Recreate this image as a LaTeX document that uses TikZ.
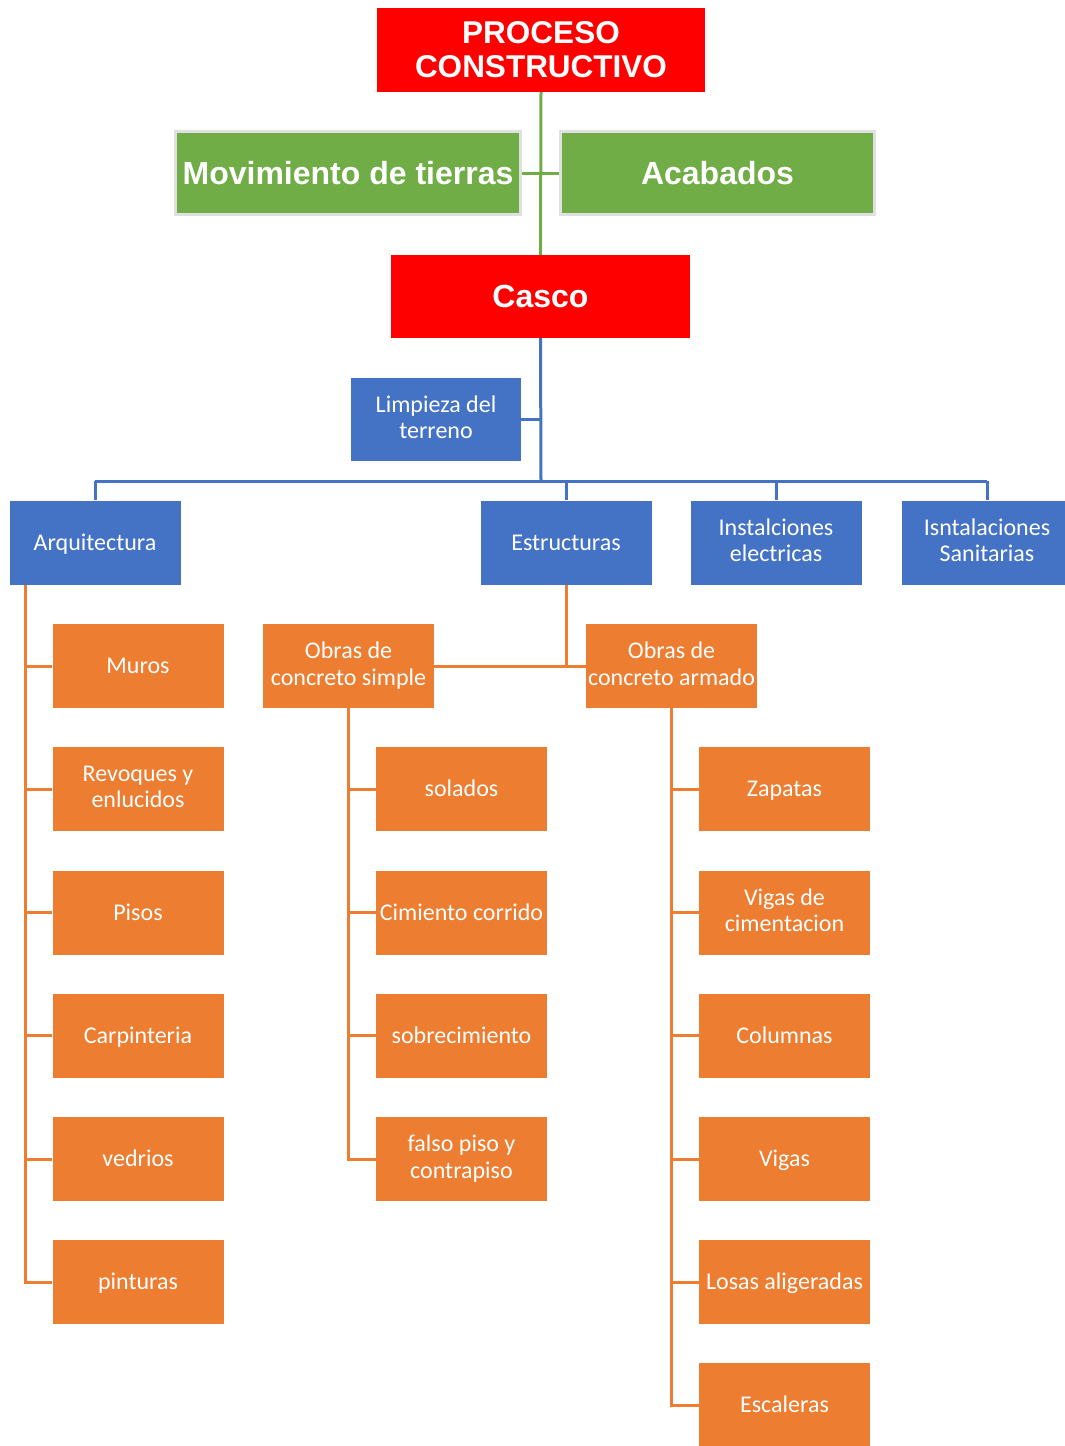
\documentclass[tikz,border=0pt]{standalone}
\usepackage{fontspec}
\setmainfont{Carlito}
\newfontfamily\hfont{Liberation Sans}
\definecolor{cred}{HTML}{FF0000}
\definecolor{cgreen}{HTML}{70AD47}
\definecolor{cblue}{HTML}{4472C4}
\definecolor{corange}{HTML}{ED7D31}
\newcommand\boxstrut{\rule[-4.6pt]{0pt}{24.6pt}}
\begin{document}
\begin{tikzpicture}[x=1pt,y=-1pt,
  box/.style={rectangle, inner sep=0pt, minimum width=171pt, minimum height=84pt,
    text=white, align=center, font=\fontsize{24}{26.5}\selectfont,
    execute at begin node=\boxstrut, execute at end node=\boxstrut},
  bbox/.style={box, fill=cblue},
  obox/.style={box, fill=corange},
  rbox/.style={rectangle, inner sep=0pt, fill=cred, text=white, align=center,
    font=\hfont\bfseries\fontsize{31.5}{34}\selectfont},
  gbox/.style={rectangle, inner sep=0pt, fill=cgreen, draw=black!12, line width=3pt,
    minimum height=83pt, text=white, align=center,
    font=\hfont\bfseries\fontsize{32}{34}\selectfont},
  gline/.style={draw=cgreen, line width=3pt},
  bline/.style={draw=cblue, line width=3pt},
  oline/.style={draw=corange, line width=3pt}
]
\useasboundingbox (0,0) rectangle (1065,1446);
\clip (0,0) rectangle (1065,1446);

% top
\node[rbox, minimum width=328pt, minimum height=84pt] (pc) at (541,50) {PROCESO\\CONSTRUCTIVO};
\node[gbox, minimum width=345pt] (mov) at (348,173) {Movimiento de tierras};
\node[gbox, minimum width=314pt] (aca) at (717.5,173) {Acabados};
\node[rbox, minimum width=299pt, minimum height=83pt, font=\hfont\bfseries\fontsize{32}{34}\selectfont] (casco) at (540.5,296.5) {Casco};

\draw[gline] (pc.south) -- (casco.north);
\draw[gline] (mov.east) -- (aca.west);

% blue level
\node[bbox, minimum width=170pt, minimum height=83pt] (limp) at (436,419.5) {Limpieza del\\terreno};
\node[bbox] (arq) at (95,542.5) {Arquitectura};
\node[bbox] (est) at (566,542.5) {Estructuras};
\node[bbox] (ele) at (776,542.5) {Instalciones\\electricas};
\node[bbox] (san) at (987,542.5) {Isntalaciones\\Sanitarias};

\coordinate (hub) at (541,481);
\draw[bline] (casco.south) -- (hub);
\draw[bline] (limp.east) -- (limp.east -| hub);
\draw[bline] (arq.north |- hub) -- (san.north |- hub);
\draw[bline] (arq.north |- hub) -- (arq.north);
\draw[bline] (est.north |- hub) -- (est.north);
\draw[bline] (ele.north |- hub) -- (ele.north);
\draw[bline] (san.north |- hub) -- (san.north);

% Arquitectura children
\node[obox] (muros) at (138,666) {Muros};
\node[obox] (revo) at (138,789) {Revoques y\\enlucidos};
\node[obox] (pisos) at (138,912.5) {Pisos};
\node[obox] (carp) at (138,1035.5) {Carpinteria};
\node[obox] (vedr) at (138,1159) {vedrios};
\node[obox] (pint) at (138,1282) {pinturas};

\coordinate (ab) at ([xshift=16pt]arq.south west);
\draw[oline] (ab) |- (pint.west);
\foreach \n in {muros,revo,pisos,carp,vedr}
  \draw[oline] (ab |- \n.west) -- (\n.west);

% Estructuras children
\node[obox] (simple) at (348.5,666) {Obras de\\concreto simple};
\node[obox] (armado) at (671.5,666) {Obras de\\concreto armado};
\draw[oline] (simple.east) -- (armado.west);
\draw[oline] (est.south) -- (est.south |- armado.west);

% concreto simple children
\node[obox] (sola) at (461.5,789) {solados};
\node[obox] (cimi) at (461.5,912.5) {Cimiento corrido};
\node[obox] (sobr) at (461.5,1035.5) {sobrecimiento};
\node[obox] (fals) at (461.5,1159) {falso piso y\\contrapiso};
\draw[oline] (simple.south) |- (fals.west);
\foreach \n in {sola,cimi,sobr}
  \draw[oline] (simple.south |- \n.west) -- (\n.west);

% concreto armado children
\node[obox] (zapa) at (784.5,789) {Zapatas};
\node[obox] (vcim) at (784.5,912.5) {Vigas de\\cimentacion};
\node[obox] (colu) at (784.5,1035.5) {Columnas};
\node[obox] (viga) at (784.5,1159) {Vigas};
\node[obox] (losa) at (784.5,1282) {Losas aligeradas};
\node[obox] (esca) at (784.5,1405) {Escaleras};
\draw[oline] (armado.south) |- (esca.west);
\foreach \n in {zapa,vcim,colu,viga,losa}
  \draw[oline] (armado.south |- \n.west) -- (\n.west);
\end{tikzpicture}
\end{document}
